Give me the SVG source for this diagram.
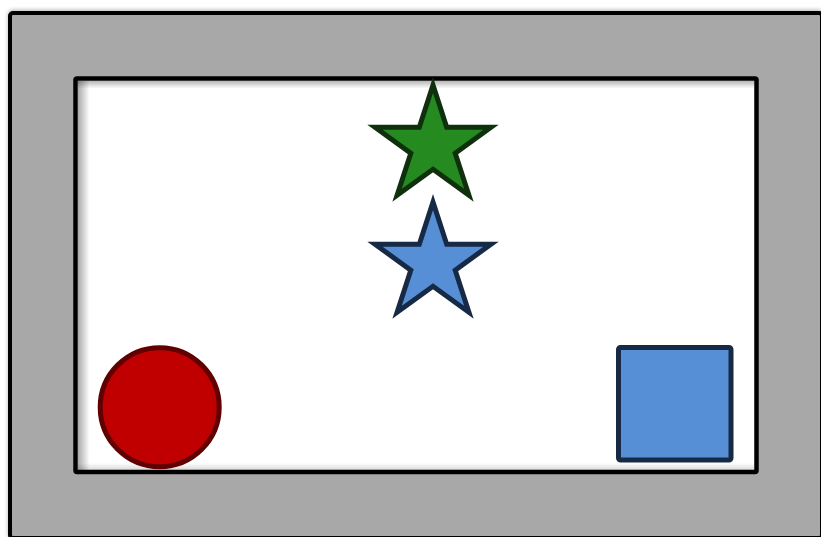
<svg xmlns="http://www.w3.org/2000/svg" width="821" height="537" viewBox="0 0 821 537">
  <defs>
    <linearGradient id="shL" x1="0" y1="0" x2="1" y2="0">
      <stop offset="0" stop-color="#000" stop-opacity="0.35"/>
      <stop offset="1" stop-color="#000" stop-opacity="0"/>
    </linearGradient>
    <linearGradient id="shT" x1="0" y1="0" x2="0" y2="1">
      <stop offset="0" stop-color="#000" stop-opacity="0.3"/>
      <stop offset="1" stop-color="#000" stop-opacity="0"/>
    </linearGradient>
    <linearGradient id="shB" x1="0" y1="1" x2="0" y2="0">
      <stop offset="0" stop-color="#000" stop-opacity="0.15"/>
      <stop offset="1" stop-color="#000" stop-opacity="0"/>
    </linearGradient>
    <filter id="drop" x="-5%" y="-5%" width="110%" height="110%">
      <feGaussianBlur in="SourceAlpha" stdDeviation="2"/>
      <feOffset dx="0" dy="-1"/>
      <feComponentTransfer><feFuncA type="linear" slope="0.3"/></feComponentTransfer>
      <feMerge><feMergeNode/><feMergeNode in="SourceGraphic"/></feMerge>
    </filter>
  </defs>
  <style>
    .frame { fill: #a8a8a8; stroke: #000; stroke-width: 4; }
    .inner { fill: #fff; stroke: #000; stroke-width: 4.5; }
    .shape { stroke-width: 5; stroke-linejoin: miter; }
  </style>
  <rect width="821" height="537" fill="#fff"/>
  <g id="frame">
    <rect class="frame" x="10" y="13" width="812" height="525" rx="3" filter="url(#drop)"/>
  </g>
  <g id="panel">
    <rect x="75.5" y="78.5" width="681" height="393.5" fill="#fff"/>
    <rect x="77.5" y="80.5" width="12" height="389.5" fill="url(#shL)"/>
    <rect x="77.5" y="80.5" width="677" height="8" fill="url(#shT)"/>
    <rect x="77.5" y="463" width="677" height="7" fill="url(#shB)"/>
    <rect x="75.5" y="78.5" width="681" height="393.5" fill="none" stroke="#000" stroke-width="4.5" rx="1.5"/>
  </g>
  <g id="green-star">
    <polygon class="shape" fill="#258b20" stroke="#0f300c" points="433,85 446.7,127.2 491,127.2 455.2,153.2 468.9,195.3 433,169.3 397.1,195.3 410.8,153.2 375,127.2 419.3,127.2"/>
  </g>
  <g id="blue-star">
    <polygon class="shape" fill="#568fd6" stroke="#172a45" points="433,202 446.7,244.2 491,244.2 455.2,270.2 468.9,312.3 433,286.3 397.1,312.3 410.8,270.2 375,244.2 419.3,244.2"/>
  </g>
  <g id="red-circle">
    <circle class="shape" cx="159.7" cy="407.2" r="59.5" fill="#c00000" stroke="#600000"/>
  </g>
  <g id="blue-square">
    <rect class="shape" x="618.5" y="347.5" width="112.5" height="112.5" rx="2" fill="#568fd6" stroke="#172a45"/>
  </g>
</svg>
